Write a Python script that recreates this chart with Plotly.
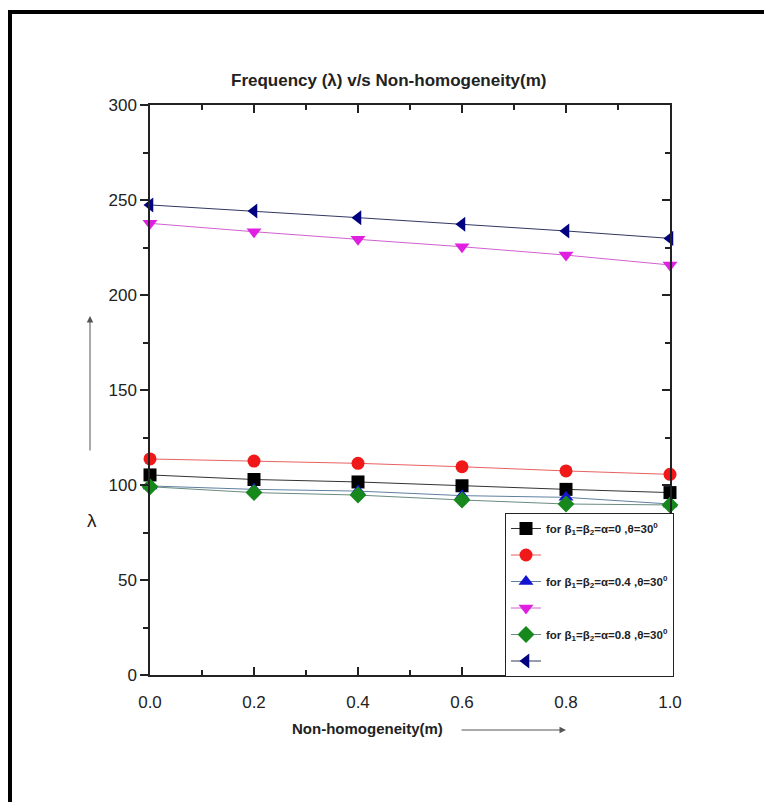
import plotly.graph_objects as go

m = [0.0, 0.2, 0.4, 0.6, 0.8, 1.0]
s_black = [105.3, 102.9, 101.6, 99.6, 97.7, 96.0]
s_red = [113.7, 112.6, 111.4, 109.6, 107.4, 105.6]
s_blue = [99.5, 97.7, 96.8, 94.4, 93.5, 90.0]
s_magenta = [237.7, 233.3, 229.3, 225.4, 221.0, 215.8]
s_green = [99.1, 96.0, 94.7, 92.1, 90.0, 89.5]
s_navy = [247.4, 244.2, 240.7, 237.2, 233.7, 229.8]

names = [
    "for β<sub>1</sub>=β<sub>2</sub>=α=0 ,θ=30<sup>0</sup>",
    " ",
    "for β<sub>1</sub>=β<sub>2</sub>=α=0.4 ,θ=30<sup>0</sup>",
    " ",
    "for β<sub>1</sub>=β<sub>2</sub>=α=0.8 ,θ=30<sup>0</sup>",
    " ",
]
series = [s_black, s_red, s_blue, s_magenta, s_green, s_navy]
colors = ["#000000", "#f01818", "#1515d0", "#e020e0", "#16881c", "#000080"]
line_colors = ["#333333", "#e86060", "#6080a0", "#d060d0", "#6a8a80", "#303860"]
symbols = ["square", "circle", "triangle-up", "triangle-down", "diamond", "triangle-left"]

FONT = "Liberation Sans, Arial"

fig = go.Figure()
for i, (nm, ys) in enumerate(zip(names, series)):
    fig.add_trace(go.Scatter(
        x=m, y=ys, name=nm, mode="lines+markers", legendgroup=f"g{i}",
        line=dict(color=line_colors[i], width=1),
        marker=dict(symbol=symbols[i], size=13, color=colors[i]),
        cliponaxis=False,
    ))

# dummy trace for the right axis
fig.add_trace(go.Scatter(x=[0], y=[0], yaxis="y2", showlegend=False,
                         mode="markers", marker=dict(opacity=0), hoverinfo="skip"))

W, H = 764, 802
L, R, T, B = 150, 670, 105, 675


def px(x):
    return (x - L) / (R - L)


def py(y):
    return (B - y) / (B - T)


fig.update_layout(
    width=W, height=H,
    margin=dict(l=L, r=W - R, t=T, b=H - B),
    paper_bgcolor="white", plot_bgcolor="white",
    font=dict(family=FONT, size=16, color="#222"),
    showlegend=True,
    legend=dict(
        x=px(505), y=py(513), xanchor="left", yanchor="top",
        bordercolor="#222", borderwidth=1, bgcolor="white",
        font=dict(family=FONT, size=11.5, color="#222", weight="bold"),
        tracegroupgap=7.5, itemwidth=30,
    ),
    xaxis=dict(
        range=[0, 1], dtick=0.2, tickformat=".1f",
        showgrid=False, zeroline=False,
        showline=True, linecolor="#222", linewidth=1.5, mirror="ticks",
        ticks="inside", ticklen=8, tickcolor="#222", tickwidth=1.5,
        minor=dict(dtick=0.1, ticks="inside", ticklen=5, tickcolor="#222", tickwidth=1.5),
        tickfont=dict(family=FONT, size=17, color="#222"),
        ticklabelstandoff=11,
    ),
    yaxis=dict(
        range=[0, 300], dtick=50,
        showgrid=False, zeroline=False,
        showline=True, linecolor="#222", linewidth=1.5,
        ticks="outside", ticklen=8, tickcolor="#222", tickwidth=1.5,
        minor=dict(dtick=25, ticks="outside", ticklen=5, tickcolor="#222", tickwidth=1.5),
        tickfont=dict(family=FONT, size=17, color="#222"),
    ),
    yaxis2=dict(
        range=[0, 300], dtick=50, overlaying="y", side="right",
        showgrid=False, zeroline=False, showticklabels=False,
        showline=True, linecolor="#222", linewidth=1.5,
        ticks="inside", ticklen=8, tickcolor="#222", tickwidth=1.5,
        minor=dict(dtick=25, ticks="inside", ticklen=5, tickcolor="#222", tickwidth=1.5),
    ),
)

annotations = [
    dict(text="<b>Frequency (λ) v/s Non-homogeneity(m)</b>", x=px(388), y=py(80),
         xref="paper", yref="paper", showarrow=False, xanchor="center", yanchor="middle",
         font=dict(family=FONT, size=17, color="#222")),
    dict(text="<b>Non-homogeneity(m)</b>", x=px(367), y=py(728),
         xref="paper", yref="paper", showarrow=False, xanchor="center", yanchor="middle",
         font=dict(family=FONT, size=15, color="#222")),
    dict(text="λ", x=px(92), y=py(520), xref="paper", yref="paper", showarrow=False,
         xanchor="center", yanchor="middle",
         font=dict(family=FONT, size=19, color="#222")),
    # arrows
    dict(text="", x=px(90), y=py(316), xref="paper", yref="paper",
         showarrow=True, ax=0, ay=136, axref="pixel", ayref="pixel",
         arrowhead=2, arrowsize=1.3, arrowwidth=1, arrowcolor="#555"),
    dict(text="", x=px(566), y=py(730), xref="paper", yref="paper",
         showarrow=True, ax=-106, ay=0, axref="pixel", ayref="pixel",
         arrowhead=2, arrowsize=1.3, arrowwidth=1, arrowcolor="#555"),
]
fig.update_layout(annotations=annotations)

fig.update_layout(shapes=[
    dict(type="line", xref="paper", yref="paper", x0=px(10), y0=py(12), x1=px(W + 5), y1=py(12),
         line=dict(color="black", width=4)),
    dict(type="line", xref="paper", yref="paper", x0=px(10), y0=py(10), x1=px(10), y1=py(H + 5),
         line=dict(color="black", width=4)),
])

fig.write_html("out.html")
